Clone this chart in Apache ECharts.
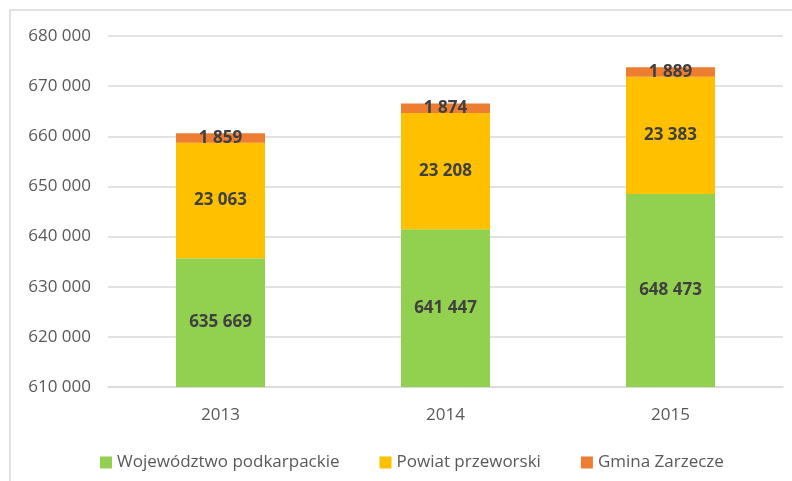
<!DOCTYPE html>
<html><head><meta charset="utf-8">
<script src="https://cdn.jsdelivr.net/npm/echarts@6/dist/echarts.min.js"></script>
<style>html,body{margin:0;padding:0;background:#fff}#c{width:792px;height:481px}</style>
</head><body><div id="c"></div>
<script>
const categories = ['2013', '2014', '2015'];
const wojewodztwo = [635669, 641447, 648473];
const powiat = [23063, 23208, 23383];
const gmina = [1859, 1874, 1889];
const seriesNames = ['Województwo podkarpackie', 'Powiat przeworski', 'Gmina Zarzecze'];
const yTicks = [610000, 620000, 630000, 640000, 650000, 660000, 670000, 680000];

const fmt = v => String(v).replace(/\B(?=(\d{3})+(?!\d))/g, ' ');
const FONT = 'Open Sans';
const lbl = {show: true, position: 'inside', color: '#404040', fontWeight: 'bold', fontSize: 17, fontFamily: FONT, formatter: p => fmt(p.value)};

const chart = echarts.init(document.getElementById('c'));
chart.setOption({
  animation: false,
  graphic: [{type: 'rect', shape: {x: 10, y: 10, width: 800, height: 500}, style: {fill: 'none', stroke: '#D9D9D9', lineWidth: 1.5}}],
  grid: {left: 108, right: 9, top: 36, bottom: 94},
  legend: {
    top: 449, left: 95, itemWidth: 12, itemHeight: 12, itemGap: 40, icon: 'rect',
    textStyle: {color: '#595959', fontSize: 17, fontFamily: FONT},
    data: seriesNames
  },
  xAxis: {
    type: 'category', data: categories,
    axisLine: {show: true, lineStyle: {color: '#D9D9D9', width: 1.5}}, axisTick: {show: false},
    axisLabel: {color: '#595959', fontSize: 17, fontFamily: FONT, margin: 20}
  },
  yAxis: {
    type: 'value', min: yTicks[0], max: yTicks[yTicks.length - 1], interval: 10000,
    axisLine: {show: false}, axisTick: {show: false},
    splitLine: {lineStyle: {color: '#D9D9D9', width: 1.5}},
    axisLabel: {color: '#595959', fontSize: 17, fontFamily: FONT, margin: 17, formatter: v => fmt(v)}
  },
  series: [
    {name: seriesNames[0], type: 'bar', stack: 't', data: wojewodztwo, barWidth: 89, itemStyle: {color: '#92D050'}, label: lbl},
    {name: seriesNames[1], type: 'bar', stack: 't', data: powiat, barWidth: 89, itemStyle: {color: '#FFC000'}, label: lbl},
    {name: seriesNames[2], type: 'bar', stack: 't', data: gmina, barWidth: 89, itemStyle: {color: '#ED7D31'}, label: lbl}
  ]
});
</script></body></html>
